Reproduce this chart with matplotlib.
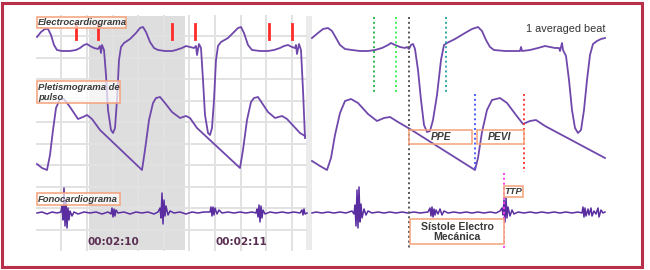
import matplotlib.pyplot as plt
from matplotlib.patches import Rectangle
import numpy as np

# traces (pixel coordinates, y grows downward)
ecg_left_x = [37, 41, 45, 48, 51, 54, 57, 62, 70, 76, 80, 84, 87, 90, 94, 98, 100, 101, 102, 104, 106, 108, 111, 113,
              115, 117, 119, 121, 124, 130, 136, 140, 143, 146, 150, 154, 158, 165, 172, 176, 182, 186, 190, 194, 196,
              197, 199, 201, 203, 205, 208, 210, 212, 214, 216, 218, 221, 228, 234, 238, 241, 244, 248, 252, 260, 268,
              274, 280, 284, 288, 292, 295, 296, 297, 299, 301, 303, 305]
ecg_left_y = [37, 32, 29, 29, 35, 45, 50, 51, 51, 50, 48, 45, 44, 46, 48, 49, 46, 53, 45, 50, 75, 110, 130, 133,
              128, 100, 60, 47, 43, 39, 33, 28, 27, 32, 42, 48, 50, 51, 51, 50, 48, 46, 47, 48, 46,
              55, 44, 48, 80, 115, 133, 135, 128, 100, 60, 46, 42, 38, 32, 28, 27, 33, 45, 50, 51, 51,
              50, 48, 46, 45, 47, 48, 45, 54, 44, 50, 90, 138]

ecg_right_x = [312, 318, 323, 328, 332, 336, 340, 345, 352, 360, 368, 375, 382, 388, 391, 395, 400, 405, 407, 409, 411,
               413, 415, 418, 421, 424, 427, 430, 433, 437, 441, 444, 447, 455, 465, 472, 478, 482, 486, 490, 494, 505,
               520, 521, 522, 530, 538, 545, 550, 555, 559, 560, 561, 562, 563, 566, 569, 572, 575, 578, 581, 584, 587,
               590, 593, 597, 601, 605]
ecg_right_y = [38, 33, 29, 28, 31, 38, 45, 49, 50, 51, 51, 50, 48, 45, 43, 45, 47, 48, 47, 49, 45,
               44, 49, 70, 100, 125, 132, 131, 120, 95, 60, 45, 43, 39, 33, 29, 27, 31, 40, 47, 50, 51,
               51, 47, 51, 50, 48, 46, 47, 48, 48, 51, 47, 43, 50, 56, 80, 110, 128, 133, 130, 110, 80,
               55, 44, 41, 39, 38]

pleth_left_x = [37, 42, 47, 50, 53, 56, 60, 64, 70, 78, 83, 87, 92, 100, 142, 145, 149, 153, 156, 160, 165, 172, 180,
                186, 190, 197, 240, 243, 247, 251, 254, 258, 262, 268, 275, 282, 287, 300, 305]
pleth_left_y = [164, 168, 170, 155, 130, 108, 99, 99, 107, 119, 117, 115, 119, 130, 170, 150, 120, 103, 98, 97, 103, 112,
                118, 116, 118, 128, 168, 150, 120, 102, 98, 97, 103, 112, 118, 116, 119, 133, 136]

pleth_right_x = [312, 320, 327, 331, 335, 340, 345, 351, 358, 368, 377, 384, 390, 398, 410, 475, 478, 482, 487, 492, 500,
                 507, 516, 523, 530, 536, 545, 605]
pleth_right_y = [161, 166, 170, 158, 135, 113, 101, 99, 103, 114, 121, 118, 117, 122, 129, 170, 158, 132, 110, 100, 98,
                 103, 115, 124, 121, 120, 126, 158]

pcg_left_x = [37, 42, 47, 52, 57, 61, 62, 63, 64, 65, 66, 67, 68, 69, 70, 72, 74, 78, 84, 90, 96, 102, 108, 111, 112,
              113, 114, 115, 116, 118, 124, 130, 136, 142, 148, 154, 158, 160, 161, 162, 163, 164, 165, 166, 168, 170,
              174, 180, 186, 192, 198, 204, 210, 211, 212, 213, 214, 215, 217, 219, 222, 228, 234, 240, 246, 252, 256,
              257, 258, 259, 260, 261, 262, 263, 265, 270, 276, 282, 288, 294, 300, 302, 303, 304, 305, 307]
pcg_left_y = [213, 212, 214, 212, 213, 212, 206, 220, 188, 226, 200, 228, 208, 220, 211, 216, 212, 214, 212, 213, 212,
              214, 212, 214, 208, 217, 209, 216, 210, 213, 212, 214, 212, 213, 212, 214, 212, 208, 218, 193, 224, 200,
              216, 206, 215, 211, 213, 212, 214, 212, 213, 212, 212, 207, 216, 207, 215, 208, 214, 210, 213, 212, 213,
              212, 213, 212, 213, 209, 217, 205, 222, 206, 218, 210, 214, 212, 213, 212, 213, 212, 213, 210, 215, 209,
              214, 213]

pcg_right_x = [312, 316, 322, 328, 334, 340, 346, 352, 354, 355, 356, 357, 358, 359, 360, 361, 362, 364, 366, 368, 372,
               378, 384, 390, 396, 402, 408, 414, 420, 428, 430, 431, 432, 433, 434, 435, 436, 438, 440, 442, 444, 448,
               454, 460, 466, 472, 478, 484, 490, 496, 500, 502, 503, 504, 505, 506, 507, 508, 510, 512, 514, 518, 524,
               530, 536, 542, 548, 554, 560, 566, 572, 578, 582, 583, 584, 585, 586, 588, 589, 591, 592, 594, 596, 598,
               599, 601, 603, 605]
pcg_right_y = [213, 212, 213, 212, 213, 212, 213, 211, 214, 205, 226, 190, 228, 187, 222, 204, 218, 209, 215, 211, 213,
               212, 213, 212, 213, 212, 213, 212, 213, 212, 208, 216, 207, 217, 209, 215, 210, 214, 209, 215, 211, 213,
               212, 213, 212, 213, 212, 213, 212, 213, 211, 208, 215, 200, 222, 198, 218, 207, 216, 210, 214, 212, 213,
               212, 213, 212, 213, 212, 213, 212, 213, 212, 213, 207, 217, 208, 216, 209, 215, 208, 216, 211, 214, 208,
               217, 210, 213, 212]

red_marks_x = [76, 98, 172, 195, 269, 292]
time_labels = ["00:02:10", "00:02:11"]
time_labels_x = [113, 241]

# vertical markers on the averaged beat: x, top, bottom, colour
markers_x = [374, 396, 409, 446, 475, 524, 504]
markers_top = [17, 17, 17, 17, 94, 94, 173]
markers_bottom = [93, 93, 248, 93, 170, 172, 250]
markers_color = ["#2fb84f", "#3ff05a", "#555555", "#2fa8a8", "#4a5cff", "#ff3b3b", "#ff3cf0"]

purple = "#7048ac"
box_edge = "#f4a27a"

fig = plt.figure(figsize=(6.5, 2.7), dpi=100)
ax = fig.add_axes([0, 0, 1, 1])
ax.set_xlim(0, 650)
ax.set_ylim(270, 0)
ax.axis("off")

# left recording panel with grid
ax.add_patch(Rectangle((37, 16), 273, 234, facecolor="white", edgecolor="none", zorder=0))
ax.add_patch(Rectangle((89, 16), 96, 234, facecolor="#dedede", edgecolor="none", zorder=0.5))
ax.add_patch(Rectangle((306, 16), 6, 234, facecolor="#ebebeb", edgecolor="none", zorder=0.5))
for gx in np.arange(61.4, 300, 25.6):
    ax.plot([gx, gx], [16, 250], color="#e2e2e2", lw=1.4, zorder=1)
for gy in np.arange(36, 240, 21.5):
    ax.plot([37, 306], [gy, gy], color="#e2e2e2", lw=1.4, zorder=1)

for t, tx in zip(time_labels, time_labels_x):
    ax.text(tx, 242, t, ha="center", va="center", fontsize=7.5, fontweight="bold",
            color="#5a2f52", family="DejaVu Sans", zorder=3)

for rx in red_marks_x:
    ax.plot([rx, rx], [24, 39], color="#ff2a2a", lw=2, zorder=4)

# traces
for xs, ys in [(ecg_left_x, ecg_left_y), (ecg_right_x, ecg_right_y),
               (pleth_left_x, pleth_left_y), (pleth_right_x, pleth_right_y)]:
    ax.plot(xs, ys, color=purple, lw=1.3, zorder=3, solid_joinstyle="round")
for xs, ys in [(pcg_left_x, pcg_left_y), (pcg_right_x, pcg_right_y)]:
    ax.plot(xs, ys, color="#5a2ea0", lw=1.1, zorder=3)

# dotted markers
for mx, t0, t1, c in zip(markers_x, markers_top, markers_bottom, markers_color):
    ax.plot([mx, mx], [t0, t1], color=c, lw=1.4, ls=(0, (1, 1.5)), zorder=4)


def label_box(x0, y0, w, h, fc="white", alpha=0.7):
    ax.add_patch(Rectangle((x0, y0), w, h, facecolor=fc, edgecolor="none", alpha=alpha, zorder=4))
    ax.add_patch(Rectangle((x0, y0), w, h, facecolor="none", edgecolor=box_edge, lw=1.1, zorder=5))


lab = dict(fontsize=6.8, fontweight="bold", fontstyle="italic", color="#3a3a3a",
           family="Liberation Sans", zorder=6)
label_box(37, 17, 89, 11)
ax.text(38, 22.5, "Electrocardiograma", va="center", ha="left", **lab)
label_box(37, 81, 83, 22)
ax.text(38, 87.5, "Pletismograma de", va="center", ha="left", **lab)
ax.text(38, 97.5, "pulso", va="center", ha="left", **lab)
label_box(37, 193, 83, 12)
ax.text(38, 199, "Fonocardiograma", va="center", ha="left", **lab)

big = dict(lab, fontsize=7.4)
label_box(409, 130, 63, 14, alpha=0)
ax.text(441, 137, "PPE", va="center", ha="center", **big)
label_box(477, 130, 47, 14, alpha=0)
ax.text(500, 137, "PEVI", va="center", ha="center", **big)
label_box(504, 186, 19, 11, alpha=0)
ax.text(513.5, 191.5, "TTP", va="center", ha="center", **lab)
label_box(410, 219, 94, 25, alpha=0.9)
ax.text(457, 226.5, "Sístole Electro", va="center", ha="center", fontsize=7.6, fontweight="bold",
        color="#3a3a3a", family="Liberation Sans", zorder=6)
ax.text(457, 237.5, "Mecánica", va="center", ha="center", fontsize=7.6, fontweight="bold",
        color="#3a3a3a", family="Liberation Sans", zorder=6)

ax.text(606, 29, "1 averaged beat", va="center", ha="right", fontsize=7.8, color="#333333",
        family="Liberation Sans", zorder=6)

# outer frame
ax.add_patch(Rectangle((2, 3), 640, 264, facecolor="none", edgecolor="#b8304a", lw=2.2, zorder=7))

fig.savefig("out.png", dpi=100)
